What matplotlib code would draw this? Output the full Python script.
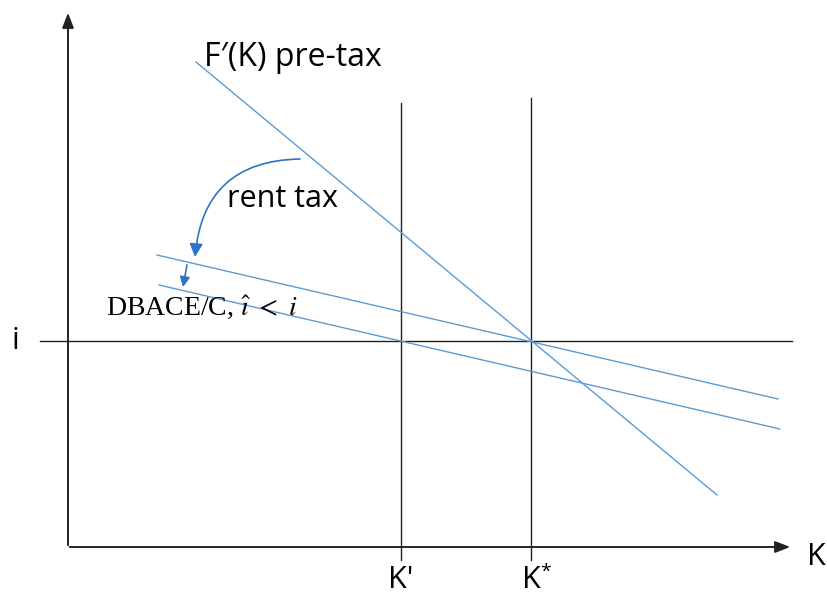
import matplotlib
matplotlib.use("Agg")
import matplotlib.pyplot as plt
from matplotlib.patches import FancyArrowPatch

# schematic geometry (diagram units, origin top-left)
fprime_x = [196, 717]
fprime_y = [62, 495]
upper_x = [157, 778]
upper_y = [255, 399]
lower_x = [159, 780]
lower_y = [285, 429]
i_level = 341
i_span = [40, 792]
k_prime = 401
k_prime_span = [103, 560]
k_star = 531
k_star_span = [98, 560]

blue = "#5b9bd5"
arrow_blue = "#2e75c6"
sans = ["Open Sans", "DejaVu Sans"]
plt.rcParams["mathtext.fontset"] = "stix"

fig = plt.figure(figsize=(8.27, 5.97), dpi=100)
ax = fig.add_axes([0, 0, 1, 1])
ax.set_xlim(0, 827)
ax.set_ylim(597, 0)
ax.axis("off")

# axes with arrows
ax.annotate("", xy=(68, 10), xytext=(68, 548),
            arrowprops=dict(arrowstyle="-|>,head_length=0.9,head_width=0.35", color="#222222", lw=1.4))
ax.annotate("", xy=(793, 547), xytext=(67, 547),
            arrowprops=dict(arrowstyle="-|>,head_length=0.9,head_width=0.35", color="#222222", lw=1.4))

ax.plot(i_span, [i_level, i_level], color="#222222", lw=1.0)
ax.plot([k_prime, k_prime], k_prime_span, color="#222222", lw=1.0)
ax.plot([k_star, k_star], k_star_span, color="#222222", lw=1.0)

ax.plot(fprime_x, fprime_y, color=blue, lw=1.0)
ax.plot(upper_x, upper_y, color=blue, lw=1.0)
ax.plot(lower_x, lower_y, color=blue, lw=1.0)

arr = FancyArrowPatch((300, 159), (195, 257), connectionstyle="arc3,rad=0.45",
                      arrowstyle="-|>,head_length=8,head_width=4", color=arrow_blue, lw=1.2,
                      shrinkA=0, shrinkB=0)
ax.add_patch(arr)
ax.annotate("", xy=(183, 287), xytext=(187, 265),
            arrowprops=dict(arrowstyle="-|>,head_length=0.6,head_width=0.3", color=arrow_blue, lw=1.2,
                            shrinkA=0, shrinkB=0))

ax.text(204, 58, "F\u2032(K) pre-tax", family=sans, fontsize=23, va="center", ha="left")
ax.text(227, 199, "rent tax", family=sans, fontsize=22, va="center", ha="left")
ax.text(106, 308, r"DBACE/C, $\hat{\imath}\ <\ i$", family=["Liberation Serif", "DejaVu Serif"],
        fontsize=20, va="center", ha="left")
ax.text(15, 341, "i", family=sans, fontsize=22, va="center", ha="center")
ax.text(816, 557, "K", family=sans, fontsize=22, va="center", ha="center")
ax.text(401, 580, "K'", family=sans, fontsize=22, va="center", ha="center")
ax.text(531, 580, "K", family=sans, fontsize=22, va="center", ha="center")
ax.text(540, 572, "*", family=sans, fontsize=14, va="center", ha="left")

fig.savefig("out.png", dpi=100)
